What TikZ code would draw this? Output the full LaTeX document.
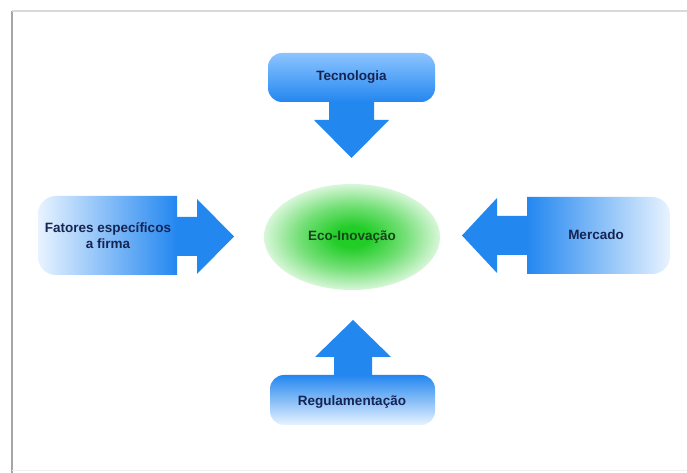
\documentclass[tikz,border=0pt]{standalone}
\usepackage{fontspec}
\setmainfont{Liberation Sans}
\definecolor{arrowblue}{RGB}{35,135,240}
\definecolor{boxlight}{RGB}{232,243,255}
\definecolor{tectop}{RGB}{140,196,255}
\definecolor{txtblue}{RGB}{22,36,82}
\definecolor{ecogreen}{RGB}{35,205,40}
\definecolor{ecolight}{RGB}{236,251,236}
\definecolor{ecotext}{RGB}{20,70,25}
\pgfdeclareradialshading{ecoshade}{\pgfpoint{0bp}{0bp}}{color(0bp)=(ecogreen); color(5bp)=(ecogreen); color(15bp)=(ecogreen!60!ecolight); color(27bp)=(ecolight); color(50bp)=(white)}
\begin{document}
\begin{tikzpicture}[x=1pt,y=1pt,
  lbl/.style={font=\bfseries\fontsize{13.5}{16}\selectfont, text=txtblue, align=center, inner sep=0pt},
  blockarrow/.style={fill=arrowblue, draw=none}]
\useasboundingbox (0,0) rectangle (687,473);
\fill[white] (0,0) rectangle (687,473);
% frame
\draw[line width=2pt, black!35] (12,0) -- (12,462);
\draw[line width=1.5pt, black!15] (12,462) -- (687,462);
\draw[line width=0.8pt, black!6] (12,3) -- (687,3);
% centre ellipse
\shade[shading=ecoshade] (352,236) ellipse [x radius=88, y radius=53];
\node[lbl, text=ecotext] (eco) at (352,236) {Eco-Inovação};
% top: Tecnologia
\fill[blockarrow] (329,373) -- (329,353) -- (314,353) -- (351.5,315) -- (389,353) -- (374,353) -- (374,373) -- cycle;
\shade[top color=tectop, bottom color=arrowblue, rounded corners=14] (268,371) rectangle (435,420);
\node[lbl] (tec) at (351.5,396) {Tecnologia};
% left: Fatores
\fill[blockarrow] (175,217) -- (197,217) -- (197,199) -- (234,236.5) -- (197,274) -- (197,256) -- (175,256) -- cycle;
\shade[left color=boxlight, middle color=arrowblue!55!white, right color=arrowblue]
  (177,198) -- (56,198) arc[start angle=270, end angle=180, radius=18] -- (38,259)
  arc[start angle=180, end angle=90, radius=18] -- (177,277) -- cycle;
\node[lbl] (fat) at (108,237) {Fatores específicos\\a firma};
% right: Mercado
\fill[blockarrow] (529,218) -- (497,218) -- (497,200) -- (462,237.5) -- (497,275) -- (497,257) -- (529,257) -- cycle;
\shade[left color=arrowblue, middle color=arrowblue!55!white, right color=boxlight]
  (527,199) -- (652,199) arc[start angle=-90, end angle=0, radius=18] -- (670,258)
  arc[start angle=0, end angle=90, radius=18] -- (527,276) -- cycle;
\node[lbl] (mer) at (596,238) {Mercado};
% bottom: Regulamentacao
\fill[blockarrow] (334,96) -- (334,116) -- (315,116) -- (353,153) -- (391,116) -- (372,116) -- (372,96) -- cycle;
\shade[top color=arrowblue, middle color=arrowblue!60!white, bottom color=boxlight, rounded corners=14] (270,48) rectangle (435,98);
\node[lbl] (reg) at (352,71) {Regulamentação};
\end{tikzpicture}
\end{document}
